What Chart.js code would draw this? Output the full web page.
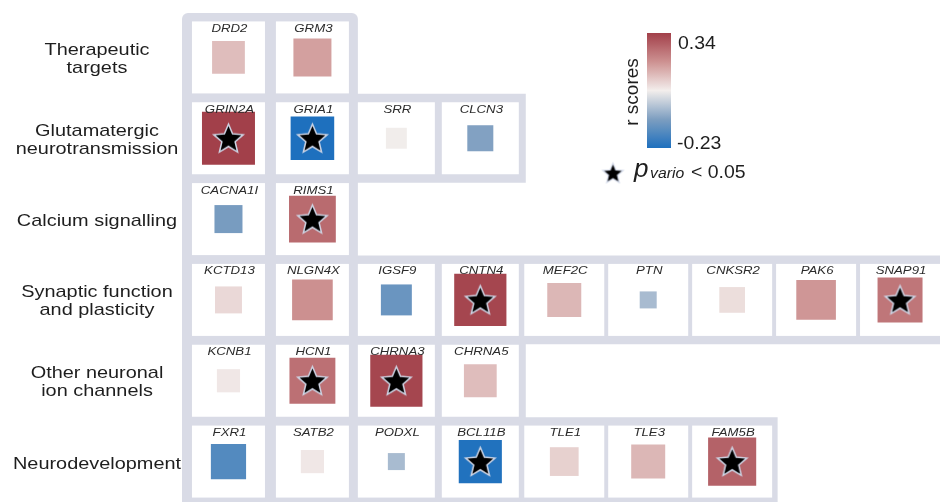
<!DOCTYPE html>
<html><head><meta charset="utf-8">
<script src="https://cdn.jsdelivr.net/npm/chart.js@4.4.1/dist/chart.umd.min.js"></script>
<style>html,body{margin:0;padding:0;background:#fff;overflow:hidden}canvas{display:block}</style>
</head><body>
<canvas id="c" width="940" height="502" style="width:940px;height:502px"></canvas>
<script>
// ---------- data ----------
const groupLabels = [
  ['Therapeutic', 'targets'],
  ['Glutamatergic', 'neurotransmission'],
  ['Calcium signalling'],
  ['Synaptic function', 'and plasticity'],
  ['Other neuronal', 'ion channels'],
  ['Neurodevelopment']
];
const genes = [
  ['DRD2', 'GRM3'],
  ['GRIN2A', 'GRIA1', 'SRR', 'CLCN3'],
  ['CACNA1I', 'RIMS1'],
  ['KCTD13', 'NLGN4X', 'IGSF9', 'CNTN4', 'MEF2C', 'PTN', 'CNKSR2', 'PAK6', 'SNAP91'],
  ['KCNB1', 'HCN1', 'CHRNA3', 'CHRNA5'],
  ['FXR1', 'SATB2', 'PODXL', 'BCL11B', 'TLE1', 'TLE3', 'FAM5B']
];
const rScores = [
  [0.13, 0.175],
  [0.34, -0.23, 0.053, -0.082],
  [-0.095, 0.265],
  [0.088, 0.20, -0.116, 0.33, 0.14, -0.035, 0.08, 0.19, 0.245],
  [0.065, 0.255, 0.33, 0.13],
  [-0.15, 0.065, -0.035, -0.225, 0.10, 0.14, 0.28]
];
const significant = [
  [false, false],
  [true, true, false, false],
  [false, true],
  [false, false, false, true, false, false, false, false, true],
  [false, true, true, false],
  [false, false, false, true, false, false, true]
];
const colorbarTicks = ['0.34', '-0.23'];
const rMin = -0.23, rMax = 0.34;

// ---------- styling helpers ----------
const FONT = "'Liberation Sans', Arial, Helvetica, sans-serif";
const GRAY = '#d9dbe6';
const stops = [
  [0.00, [30, 112, 190]],
  [0.25, [125, 158, 192]],
  [0.50, [243, 238, 236]],
  [0.75, [205, 145, 145]],
  [1.00, [162, 64, 74]]
];
function cmap(t) {
  t = Math.max(0, Math.min(1, t));
  for (let i = 1; i < stops.length; i++) {
    if (t <= stops[i][0]) {
      const [t0, c0] = stops[i - 1], [t1, c1] = stops[i];
      const f = (t - t0) / (t1 - t0);
      const c = c0.map((v, k) => Math.round(v + f * (c1[k] - v)));
      return `rgb(${c[0]},${c[1]},${c[2]})`;
    }
  }
  return 'rgb(162,64,74)';
}
const colorFor = r => cmap((r - rMin) / (rMax - rMin));
const sideFor = r => 53 * Math.sqrt(Math.abs(r) / 0.34);
const cellWidth = ci => (ci < 2 ? 73 : ci < 4 ? 77 : 80);

function makeStar(R, lw) {
  const s = Math.ceil(2 * R + lw * 2 + 4);
  const c = document.createElement('canvas');
  c.width = s; c.height = s;
  const g = c.getContext('2d');
  g.translate(s / 2, s / 2 + 0.095 * R);
  g.beginPath();
  for (let i = 0; i < 10; i++) {
    const a = -Math.PI / 2 + i * Math.PI / 5;
    const rad = i % 2 ? R * 0.45 : R;
    g.lineTo(rad * Math.cos(a), rad * Math.sin(a));
  }
  g.closePath();
  g.lineJoin = 'miter';
  g.lineWidth = lw;
  g.strokeStyle = '#cfd6e6';
  g.stroke();
  g.fillStyle = '#000';
  g.fill();
  return c;
}
const bigStar = makeStar(13.5, 3);
const legendStar = makeStar(9, 2.4);

// ---------- build points ----------
const squarePts = [], starPts = [];
genes.forEach((row, ri) => row.forEach((g, ci) => {
  squarePts.push({ x: ci + 1, y: ri + 1, r: rScores[ri][ci] });
  if (significant[ri][ci]) starPts.push({ x: ci + 1, y: ri + 1 });
}));

function sText(ctx, text, x, y, sx, align) {
  ctx.save();
  ctx.translate(x, y);
  ctx.scale(sx, 1);
  ctx.textAlign = align;
  ctx.fillText(text, 0, 0);
  ctx.restore();
}

const framePlugin = {
  id: 'frame',
  beforeDatasetsDraw(chart) {
    const ctx = chart.ctx, xs = chart.scales.x, ys = chart.scales.y;
    ctx.save();
    ctx.fillStyle = GRAY;
    genes.forEach((row, ri) => {
      const n = row.length;
      const left = xs.getPixelForValue(0.5) - 4.5;
      const right = Math.min(chart.width, xs.getPixelForValue(n + 0.5) + 3.5);
      const top = ys.getPixelForValue(ri + 0.5) - 4;
      const bottom = ys.getPixelForValue(ri + 1.5) + 4;
      ctx.beginPath();
      if (ri === 0) ctx.roundRect(left, top, right - left, bottom - top, [6, 6, 0, 0]);
      else ctx.rect(left, top, right - left, bottom - top);
      ctx.fill();
    });
    ctx.fillStyle = '#ffffff';
    genes.forEach((row, ri) => row.forEach((g, ci) => {
      const cx = xs.getPixelForValue(ci + 1), cy = ys.getPixelForValue(ri + 1);
      const w = cellWidth(ci);
      ctx.fillRect(cx - w / 2, cy - 36, w, 72);
    }));
    ctx.restore();
  },
  afterDatasetsDraw(chart) {
    const ctx = chart.ctx, xs = chart.scales.x, ys = chart.scales.y;
    ctx.save();
    // gene labels
    ctx.fillStyle = '#2b2b2b';
    ctx.font = `italic 11.5px ${FONT}`;
    ctx.textBaseline = 'alphabetic';
    genes.forEach((row, ri) => row.forEach((g, ci) => {
      sText(ctx, g, xs.getPixelForValue(ci + 1) + 1, ys.getPixelForValue(ri + 1) - 25.5, 1.15, 'center');
    }));
    // group labels
    ctx.fillStyle = '#1e1e1e';
    ctx.font = `17px ${FONT}`;
    groupLabels.forEach((lines, ri) => {
      const cy = ys.getPixelForValue(ri + 1);
      if (lines.length === 1) {
        sText(ctx, lines[0], 97, cy + 7, 1.17, 'center');
      } else {
        sText(ctx, lines[0], 97, cy - 2.5, 1.17, 'center');
        sText(ctx, lines[1], 97, cy + 15.5, 1.17, 'center');
      }
    });
    // colorbar
    const cbL = 647, cbT = 33, cbW = 24, cbH = 115;
    const grad = ctx.createLinearGradient(0, cbT, 0, cbT + cbH);
    for (let i = 0; i <= 20; i++) grad.addColorStop(i / 20, cmap(1 - i / 20));
    ctx.fillStyle = grad;
    ctx.fillRect(cbL, cbT, cbW, cbH);
    ctx.fillStyle = '#1e1e1e';
    ctx.font = `18px ${FONT}`;
    sText(ctx, colorbarTicks[0], 678, 49, 1.08, 'left');
    sText(ctx, colorbarTicks[1], 677, 149, 1.08, 'left');
    ctx.save();
    ctx.translate(638, 92);
    ctx.rotate(-Math.PI / 2);
    ctx.font = `19px ${FONT}`;
    ctx.textAlign = 'center';
    ctx.fillText('r scores', 0, 0);
    ctx.restore();
    // significance legend
    ctx.drawImage(legendStar, 613 - legendStar.width / 2, 173 - legendStar.height / 2);
    ctx.font = `italic 26px ${FONT}`;
    sText(ctx, 'p', 634, 177, 1.0, 'left');
    ctx.font = `italic 15px ${FONT}`;
    sText(ctx, 'vario', 650, 178, 1.05, 'left');
    ctx.font = `18px ${FONT}`;
    sText(ctx, '< 0.05', 691, 178, 1.08, 'left');
    ctx.restore();
  }
};

new Chart(document.getElementById('c'), {
  type: 'scatter',
  data: {
    datasets: [
      {
        label: 'significant',
        data: starPts,
        order: 0,
        pointStyle: bigStar,
        pointRadius: 14,
        clip: false
      },
      {
        label: 'r scores',
        data: squarePts,
        order: 1,
        pointStyle: 'rect',
        pointRadius: ctx => sideFor(ctx.raw.r) / (2 * Math.SQRT1_2),
        pointBackgroundColor: ctx => colorFor(ctx.raw.r),
        pointBorderWidth: 0,
        clip: false
      }
    ]
  },
  options: {
    responsive: false,
    animation: false,
    events: [],
    layout: { autoPadding: false, padding: { left: 186.5, right: 0, top: 17, bottom: 0 } },
    plugins: { legend: { display: false }, tooltip: { enabled: false } },
    scales: {
      x: { type: 'linear', min: 0.5, max: 9.476, display: false },
      y: { type: 'linear', min: 0.5, max: 6.5, reverse: true, display: false }
    }
  },
  plugins: [framePlugin]
});
</script>
</body></html>
